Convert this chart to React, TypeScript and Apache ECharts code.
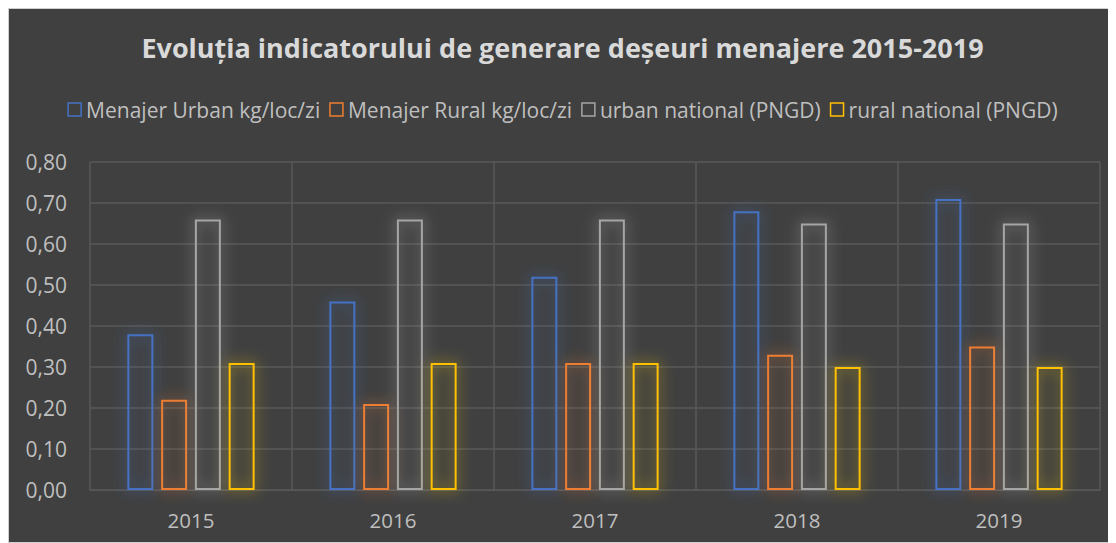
import React, { useEffect, useRef } from "react";
import * as echarts from "echarts";

const categories = ["2015", "2016", "2017", "2018", "2019"];
const urban = [0.38, 0.46, 0.52, 0.68, 0.71];
const rural = [0.22, 0.21, 0.31, 0.33, 0.35];
const urbanNational = [0.66, 0.66, 0.66, 0.65, 0.65];
const ruralNational = [0.31, 0.31, 0.31, 0.3, 0.3];
const seriesNames = [
  "Menajer Urban kg/loc/zi",
  "Menajer Rural kg/loc/zi",
  "urban national (PNGD)",
  "rural national (PNGD)",
];
const colors = ["#4472C4", "#ED7D31", "#A5A5A5", "#FFC000"];
const glows = [
  "rgba(68,114,196,1)",
  "rgba(237,125,49,1)",
  "rgba(190,190,190,1)",
  "rgba(255,210,0,1)",
];

const FONT = "'Open Sans', sans-serif";

export default function App() {
  const ref = useRef<HTMLDivElement>(null);
  useEffect(() => {
    if (!ref.current) return;
    const chart = echarts.init(ref.current, undefined, { renderer: "svg" });
    const datas = [urban, rural, urbanNational, ruralNational];
    chart.setOption({
      animation: false,
      backgroundColor: "#404040",
      textStyle: { fontFamily: FONT },
      title: {
        text: "Evoluția indicatorului de generare deșeuri menajere 2015-2019",
        left: "center",
        top: 20,
        textStyle: { color: "#d9d9d9", fontSize: 27, fontWeight: "bold", fontFamily: FONT },
      },
      legend: {
        top: 85,
        left: "center",
        icon: "rect",
        itemWidth: 13,
        itemHeight: 13,
        itemGap: 9,
        textStyle: { color: "#bfbfbf", fontSize: 21, fontFamily: FONT },
        data: seriesNames.map((n, i) => ({
          name: n,
          itemStyle: { color: "transparent", borderColor: colors[i], borderWidth: 1.5, shadowBlur: 0 },
        })),
      },
      grid: { left: 81, right: 16, top: 153, bottom: 53, containLabel: false },
      xAxis: {
        type: "category",
        data: categories,
        axisLine: { show: true, lineStyle: { color: "#585858" } },
        axisTick: { show: false },
        splitLine: { show: true, lineStyle: { color: "#585858", width: 1.5 } },
        axisLabel: { color: "#bfbfbf", fontSize: 20.5, margin: 19, fontFamily: FONT },
      },
      yAxis: {
        type: "value",
        min: 0,
        max: 0.8,
        interval: 0.1,
        axisLine: { show: false },
        axisTick: { show: false },
        splitLine: { show: true, lineStyle: { color: "#585858", width: 1.5 } },
        axisLabel: {
          color: "#bfbfbf",
          fontSize: 21,
          margin: 23,
          fontFamily: FONT,
          formatter: (v: number) => v.toFixed(2).replace(".", ","),
        },
      },
      series: datas.map((d, i) => ({
        name: seriesNames[i],
        type: "bar",
        data: d,
        barGap: "30%",
        barCategoryGap: "37%",
        itemStyle: {
          color: "rgba(0,0,0,0)",
          borderColor: colors[i],
          borderWidth: 2,
          shadowBlur: 14,
          shadowColor: glows[i],
        },
      })),
    });
    return () => chart.dispose();
  }, []);
  return (
    <div
      style={{
        width: 1108,
        height: 535,
        boxSizing: "border-box",
        border: "1px solid #d0d0d0",
        background: "#404040",
        overflow: "hidden",
      }}
    >
      <div ref={ref} style={{ width: 1107, height: 534 }} />
    </div>
  );
}
